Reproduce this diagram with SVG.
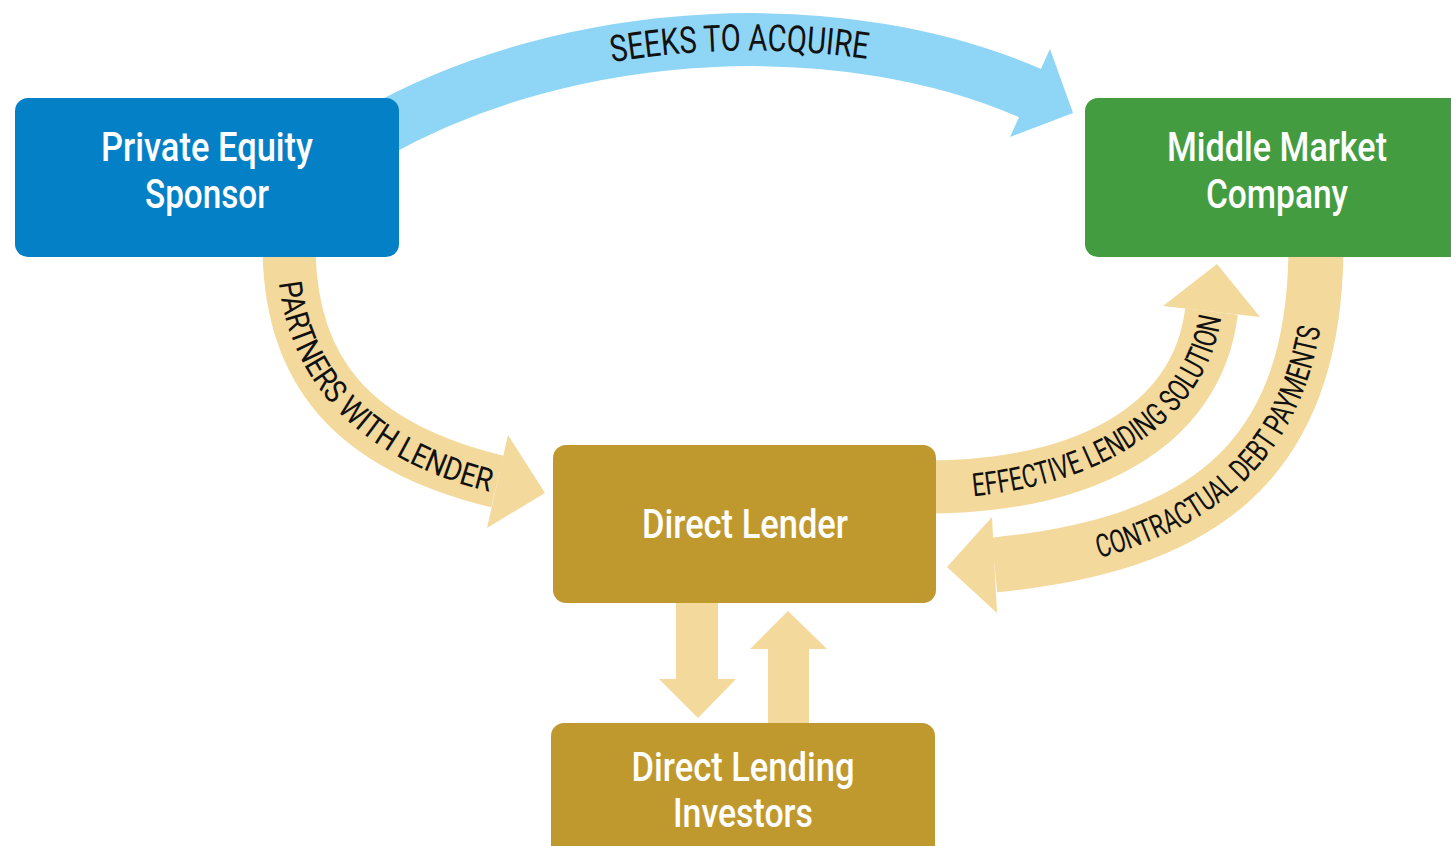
<svg xmlns="http://www.w3.org/2000/svg" width="1451" height="846" viewBox="0 0 1451 846">
<style>
.tan{fill:none;stroke:#F3D99B;stroke-linecap:butt}
.tanf{fill:#F3D99B}
.blue{fill:none;stroke:#8FD5F5;stroke-linecap:butt}
.bluef{fill:#8FD5F5}
.lbl{font-family:Roboto,"Liberation Sans",sans-serif;font-weight:400;fill:#111}
.box{font-family:Roboto,"Liberation Sans",sans-serif;font-weight:500;font-size:40px;fill:#fff;text-anchor:middle}
</style>
<defs>
<path id="tpSeeks" d="M375,144 C575,31 848,24 1031,104.5"/>
<path id="tpPartners" d="M277,250 C277,370 348,458 494,493"/>
<path id="tpEffective" d="M930,498 C1080,498 1208,431 1222,312"/>
<path id="tpContract" d="M996,576 C1195,556 1326,474 1327,250"/>
</defs>
<rect width="1451" height="846" fill="#fff"/>
<g id="connectors">
  <g id="seeks">
    <path class="blue" stroke-width="53" d="M375,133 C575,20 848,13 1031,93.5"/>
    <polygon class="bluef" points="1073,113 1050,49 1010,137"/>
    <text class="lbl" font-size="37"><textPath href="#tpSeeks" startOffset="56%" text-anchor="middle" textLength="256" lengthAdjust="spacingAndGlyphs">SEEKS TO ACQUIRE</textPath></text>
  </g>
  <g id="partners">
    <path class="tan" stroke-width="53" d="M289,245 C289,370 351,446 497.5,481.5"/>
    <polygon class="tanf" points="545,493 508,435 487,528"/>
    <text class="lbl" font-size="32"><textPath href="#tpPartners" startOffset="54%" text-anchor="middle" textLength="318" lengthAdjust="spacingAndGlyphs">PARTNERS WITH LENDER</textPath></text>
  </g>
  <g id="effective">
    <path class="tan" stroke-width="53" d="M925,487 C1080,487 1197,430 1211.5,311.5"/>
    <polygon class="tanf" points="1217,264 1163,306 1260,317"/>
    <text class="lbl" font-size="32"><textPath href="#tpEffective" startOffset="55%" text-anchor="middle" textLength="330" lengthAdjust="spacingAndGlyphs">EFFECTIVE LENDING SOLUTION</textPath></text>
  </g>
  <g id="contractual">
    <path class="tan" stroke-width="55" d="M1316,245 C1316,470 1193,545 994.5,565"/>
    <polygon class="tanf" points="947,567 992,517 997,613"/>
    <text class="lbl" font-size="32"><textPath href="#tpContract" startOffset="52.5%" text-anchor="middle" textLength="340" lengthAdjust="spacingAndGlyphs">CONTRACTUAL DEBT PAYMENTS</textPath></text>
  </g>
  <polygon id="down" class="tanf" points="676,600 718,600 718,679 736,679 698,718 659,679 676,679"/>
  <polygon id="up" class="tanf" points="768,728 768,649 750,649 788,611 827,649 809,649 809,728"/>
</g>
<g id="pe">
  <rect x="15" y="98" width="384" height="159" rx="13" fill="#0480C6"/>
  <text class="box" x="207" y="161" textLength="212" lengthAdjust="spacingAndGlyphs">Private Equity</text>
  <text class="box" x="207" y="208" textLength="124" lengthAdjust="spacingAndGlyphs">Sponsor</text>
</g>
<g id="mmc">
  <rect x="1085" y="98" width="390" height="159" rx="13" fill="#439C40"/>
  <text class="box" x="1277" y="161" textLength="220" lengthAdjust="spacingAndGlyphs">Middle Market</text>
  <text class="box" x="1277" y="208" textLength="142" lengthAdjust="spacingAndGlyphs">Company</text>
</g>
<g id="dl">
  <rect x="553" y="445" width="383" height="158" rx="13" fill="#BF992D"/>
  <text class="box" x="745" y="538" textLength="206" lengthAdjust="spacingAndGlyphs">Direct Lender</text>
</g>
<g id="dli">
  <rect x="551" y="723" width="384" height="150" rx="13" fill="#BF992D"/>
  <text class="box" x="743" y="781" textLength="223" lengthAdjust="spacingAndGlyphs">Direct Lending</text>
  <text class="box" x="743" y="827" textLength="140" lengthAdjust="spacingAndGlyphs">Investors</text>
</g>
</svg>
